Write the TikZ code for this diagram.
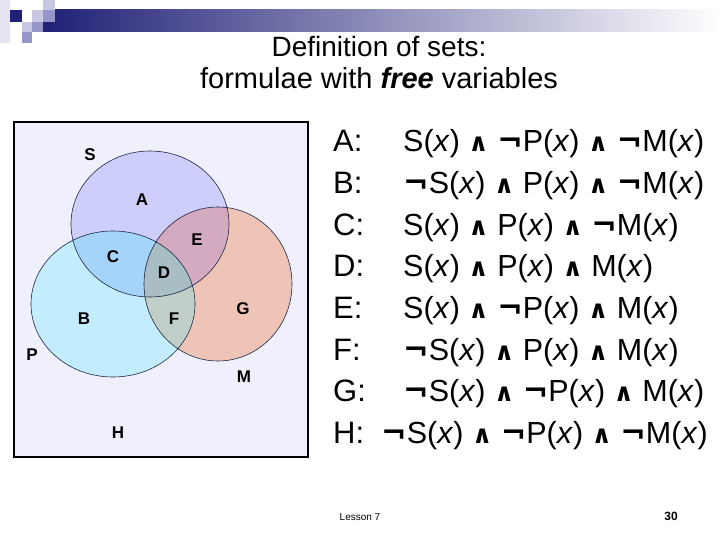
\documentclass[tikz,border=0pt]{standalone}
\usepackage{fontspec}
\setmainfont{Liberation Sans}
\newfontfamily\symfont{DejaVu Sans}
\usetikzlibrary{positioning}

\definecolor{barnavy}{RGB}{32,32,118}
\definecolor{barmid}{RGB}{182,182,208}
\definecolor{sqpale}{RGB}{228,228,242}
\definecolor{sqlight}{RGB}{200,200,228}
\definecolor{sqmid}{RGB}{150,150,200}
\definecolor{boxbg}{RGB}{240,240,252}
\definecolor{ringcol}{RGB}{30,38,70}
\definecolor{colA}{RGB}{206,206,250}
\definecolor{colB}{RGB}{195,236,252}
\definecolor{colC}{RGB}{165,212,250}
\definecolor{colD}{RGB}{168,190,196}
\definecolor{colE}{RGB}{212,170,192}
\definecolor{colF}{RGB}{192,208,200}
\definecolor{colG}{RGB}{238,196,182}

\newcommand{\wedgesym}{{\symfont\bfseries\fontsize{25}{25}\selectfont\char"2227}}
\newcommand{\negsym}{{\symfont\bfseries\char"00AC}}
\newcommand{\px}{(\textit{x})}
\def\setS{(cS) ellipse [x radius=79pt, y radius=73pt]}
\def\setP{(cP) ellipse [x radius=82pt, y radius=73pt]}
\def\setM{(cM) ellipse [x radius=74pt, y radius=77pt]}

\begin{document}
\begin{tikzpicture}[x=1pt, y=-1pt,
    ring/.style={draw=ringcol, line width=0.6pt},
    vlabel/.style={font=\fontsize{17}{17}\selectfont\bfseries},
    rowlabel/.style={anchor=base west, inner sep=0pt, font=\fontsize{31}{31}\selectfont},
    formula/.style={anchor=base west, inner sep=0pt, font=\fontsize{30.5}{30.5}\selectfont}]

    \useasboundingbox (0,0) rectangle (720,540);
    \fill[white] (0,0) rectangle (720,540);

    % header bar
    \shade[left color=barnavy, middle color=barmid, right color=white] (43,10) rectangle (720,32);
    \fill[sqpale] (0,0) rectangle (10,43);
    \fill[barnavy] (10,10) rectangle (22,22);
    \fill[sqlight] (32,10) rectangle (43,22);
    \fill[sqlight] (43,0) rectangle (55,10);
    \fill[sqmid] (43,10) rectangle (55,22);
    \fill[sqlight] (22,22) rectangle (32,32);
    \fill[sqmid] (32,22) rectangle (43,32);
    \fill[sqmid] (22,32) rectangle (32,43);

    \node[anchor=base, font=\fontsize{28}{28}\selectfont] (title1) at (379,56.5) {Definition of sets:};
    \node[anchor=base, font=\fontsize{29}{29}\selectfont] (title2) at (379,89) {formulae with \textbf{\textit{free}} variables};

    % venn diagram
    \draw[line width=2.5pt, fill=boxbg] (14,122) rectangle (308,457);
    \coordinate (cS) at (150,224);
    \coordinate (cP) at (113,304);
    \coordinate (cM) at (218,284);
    \fill[colA] \setS;
    \fill[colB] \setP;
    \fill[colG] \setM;
    \begin{scope}
        \clip \setS;
        \fill[colC] \setP;
        \fill[colE] \setM;
    \end{scope}
    \begin{scope}
        \clip \setP;
        \fill[colF] \setM;
    \end{scope}
    \begin{scope}
        \clip \setS;
        \clip \setP;
        \fill[colD] \setM;
    \end{scope}
    \draw[ring] \setS \setP \setM;

    \foreach \n/\x/\y in {S/90/155, A/142/200, E/197/240, C/113/257, D/164/273,
        B/84/319, F/174/319, G/243/309, P/32/355, M/244/377, H/118/433}
        \node[vlabel] (lbl\n) at (\x,\y) {\n};

    % formulae
    \node[rowlabel] (lA) at (333,152) {A:};
    \node[rowlabel] (lB) at (333,193.6) {B:};
    \node[rowlabel] (lC) at (333,235.2) {C:};
    \node[rowlabel] (lD) at (333,276.8) {D:};
    \node[rowlabel] (lE) at (333,318.4) {E:};
    \node[rowlabel] (lF) at (333,360) {F:};
    \node[rowlabel] (lG) at (333,401.6) {G:};
    \node[rowlabel] (lH) at (333,443.2) {H:};

    \node[formula] (fA) at (403,152) {S\px\ \wedgesym\ \negsym P\px\ \wedgesym\ \negsym M\px};
    \node[formula] (fB) at (403,193.6) {\negsym S\px\ \wedgesym\ P\px\ \wedgesym\ \negsym M\px};
    \node[formula] (fC) at (403,235.2) {S\px\ \wedgesym\ P\px\ \wedgesym\ \negsym M\px};
    \node[formula] (fD) at (403,276.8) {S\px\ \wedgesym\ P\px\ \wedgesym\ M\px};
    \node[formula] (fE) at (403,318.4) {S\px\ \wedgesym\ \negsym P\px\ \wedgesym\ M\px};
    \node[formula] (fF) at (403,360) {\negsym S\px\ \wedgesym\ P\px\ \wedgesym\ M\px};
    \node[formula] (fG) at (403,401.6) {\negsym S\px\ \wedgesym\ \negsym P\px\ \wedgesym\ M\px};
    \node[formula] (fH) at (381,443.2) {\negsym S\px\ \wedgesym\ \negsym P\px\ \wedgesym\ \negsym M\px};

    % footer
    \node[font=\fontsize{10}{10}\selectfont] (lesson) at (360,517) {Lesson 7};
    \node[font=\fontsize{12}{12}\selectfont\bfseries] (pageno) at (671,516) {30};
\end{tikzpicture}
\end{document}
